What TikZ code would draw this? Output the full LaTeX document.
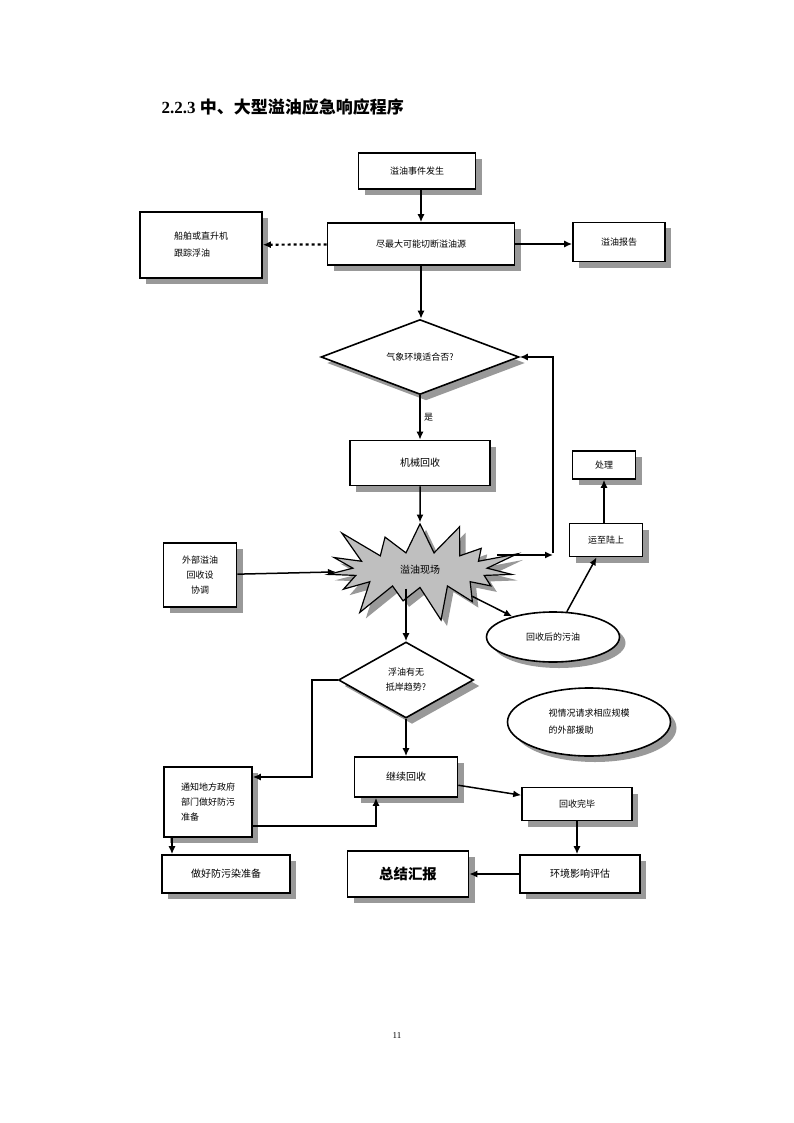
\documentclass[tikz,border=0pt]{standalone}
\usepackage{fontspec}
\setmainfont{Liberation Serif}
\newfontfamily\cjk{Noto Sans CJK SC}
\usetikzlibrary{shapes.geometric,shapes.symbols,shadows,arrows.meta}
\tikzset{
  shd/.style={drop shadow={shadow xshift=6pt,shadow yshift=-6pt,fill=black!40,opacity=1}},
  box/.style={draw, line width=1.6pt, fill=white, shd, font=\cjk\small, align=center, inner sep=2pt},
  dia/.style={draw, line width=1.6pt, fill=white, shd, diamond, aspect=2.6, font=\cjk\small, align=center, inner sep=0pt},
  ell/.style={draw, line width=1.6pt, fill=white, shd, ellipse, font=\cjk\small, align=left, inner sep=0pt},
  arr/.style={line width=1.5pt, -{Latex[length=8pt,width=7pt]}}
}
\begin{document}
\begin{tikzpicture}[x=1pt,y=1pt,yscale=-1]
    \fill[white] (0,0) rectangle (794,1123);
    \useasboundingbox (0,0) rectangle (794,1123);

    \draw (158,107) node [anchor=west, font=\bfseries\fontsize{17}{20}\selectfont] (title) {2.2.3 {\cjk 中、大型溢油应急响应程序}};
    \draw (397,1036) node [font=\small] (page) {11};

    \draw (417,171) node [box, minimum width=117pt, minimum height=36pt] (event) {溢油事件发生};
    \draw (421,244) node [box, minimum width=187pt, minimum height=42pt] (cut) {尽最大可能切断溢油源};
    \draw (201,245) node [box, minimum width=122pt, minimum height=66pt, align=left] (track) {船舶或直升机\\[6pt]跟踪浮油};
    \draw (619,242) node [box, minimum width=92pt, minimum height=39pt] (report) {溢油报告};
    \draw (420,357) node [dia, minimum width=198pt, minimum height=75pt] (weather) {气象环境适合否?};
    \draw (420,463) node [box, minimum width=140pt, minimum height=45pt, font=\cjk\normalsize] (mech) {机械回收};
    \draw (420,570) node [starburst, starburst points=15, starburst point height=40pt, draw, line width=1.2pt, fill=black!25, shd, minimum width=215pt, minimum height=115pt, font=\cjk\normalsize] (site) {溢油现场};
    \draw (200,575) node [box, minimum width=73pt, minimum height=64pt] (ext) {外部溢油\\[4pt]回收设\\[4pt]协调};
    \draw (606,540) node [box, minimum width=73pt, minimum height=33pt] (land) {运至陆上};
    \draw (604,465) node [box, minimum width=63pt, minimum height=28pt] (treat) {处理};
    \draw (553,637) node [ell, minimum width=133pt, minimum height=50pt] (waste) {回收后的污油};
    \draw (406,680) node [dia, minimum width=135pt, minimum height=76pt] (shore) {浮油有无\\[4pt]抵岸趋势?};
    \draw (589,722) node [ell, minimum width=163pt, minimum height=68pt] (help) {视情况请求相应规模\\[6pt]的外部援助};
    \draw (406,777) node [box, minimum width=103pt, minimum height=40pt, font=\cjk\normalsize] (cont) {继续回收};
    \draw (208,802) node [box, minimum width=88pt, minimum height=70pt, align=left] (notify) {通知地方政府\\[4pt]部门做好防污\\[4pt]准备};
    \draw (226,874) node [box, minimum width=128pt, minimum height=38pt, font=\cjk\normalsize] (prep) {做好防污染准备};
    \draw (577,804) node [box, minimum width=110pt, minimum height=33pt] (done) {回收完毕};
    \draw (580,874) node [box, minimum width=120pt, minimum height=38pt, font=\cjk\normalsize] (eval) {环境影响评估};
    \draw (408,874) node [box, minimum width=121pt, minimum height=46pt, font=\cjk\bfseries\Large] (sum) {总结汇报};

    \coordinate (loopa) at (553,555);
    \coordinate (loopb) at (553,357);
    \coordinate (lefta) at (312,680);
    \coordinate (leftb) at (312,777);
    \coordinate (lowa) at (376,826);

    \draw [arr] (event.south -| 421,0) -- (cut);
    \draw [arr, dashed, line width=2.2pt] (cut) -- (track);
    \draw [arr] (cut) -- (report.west |- cut);
    \draw [arr] (cut) -- (weather.north -| cut);
    \draw [arr] (weather) -- node [right, font=\cjk\small] {是} (mech);
    \draw [arr] (mech) -- (site);
    \draw [arr] (ext) -- (site);
    \draw [arr] (site.east |- loopa) -- (loopa);
    \draw [arr] ([yshift=-2pt]loopa) -- (loopb) -- (weather.east);
    \draw [arr] (site) -- (waste);
    \draw [arr] (waste) -- (land);
    \draw [arr] (land.north -| treat) -- (treat);
    \draw [arr] (site.south -| shore) -- (shore);
    \draw [arr] (shore.west) -- (lefta) -- (leftb) -- (notify.east |- leftb);
    \draw [arr] (shore) -- (cont);
    \draw [arr] (notify.east |- lowa) -- (lowa) -- (cont.south -| lowa);
    \draw [arr] (notify.south -| 172,0) -- (prep.north -| 172,0);
    \draw [arr] (cont) -- (done);
    \draw [arr] (done) -- (eval.north -| done);
    \draw [arr] (eval) -- (sum);

\end{tikzpicture}
\end{document}
